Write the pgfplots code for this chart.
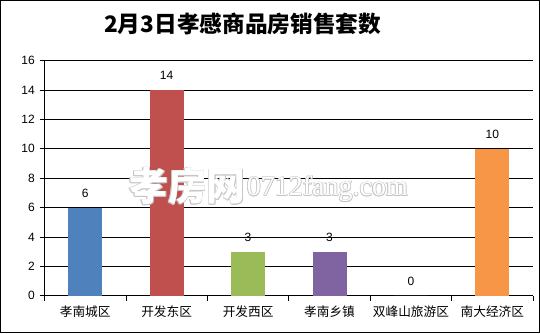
\documentclass[border=0pt]{standalone}
\usepackage{pgfplots}
\pgfplotsset{compat=1.18}
\usepackage{fontspec}
\setmainfont{Liberation Sans}
\newfontfamily\cjk{Noto Sans CJK SC}
\newfontfamily\wmserif{Liberation Serif}
\definecolor{cA}{HTML}{4F81BD}
\definecolor{cB}{HTML}{C0504D}
\definecolor{cC}{HTML}{9BBB59}
\definecolor{cD}{HTML}{8064A2}
\definecolor{cE}{HTML}{4BACC6}
\definecolor{cF}{HTML}{F79646}
\newcommand{\wm}[3]{%
  \foreach \dx/\dy in {0.6/0,-0.6/0,0/0.6,0/-0.6,0.45/0.45,-0.45/0.45,0.45/-0.45,-0.45/-0.45}{%
    \node[font=#3, text=gray!45, inner sep=0pt] at ($(#1)+(\dx,\dy)$) {#2};}
  \node[font=#3, text=white, inner sep=0pt] at (#1) {#2};}
\usetikzlibrary{calc}
\begin{document}
\begin{tikzpicture}[x=1pt,y=1pt]
\useasboundingbox (0,0) rectangle (405,249.75);
\draw[line width=0.75pt] (0.375,0.375) rectangle (404.625,249.375);
\node[font=\cjk\bfseries\fontsize{17}{20}\selectfont] at (181.9,231.5) {2月3日孝感商品房销售套数};
\begin{axis}[
  at={(33.4pt,28pt)}, anchor=south west,
  scale only axis, width=366.4pt, height=176.25pt,
  ybar, bar width=25.5pt, bar shift=0pt,
  xmin=-0.5, xmax=5.5, ymin=0, ymax=16,
  ytick={0,2,...,16},
  xtick={0,...,5},
  xticklabels={孝南城区,开发东区,开发西区,孝南乡镇,双峰山旅游区,南大经济区},
  xticklabel style={font=\cjk\fontsize{9.5}{11}\selectfont},
  yticklabel style={font=\fontsize{9}{11}\selectfont},
  /pgf/number format/assume math mode=true,
  minor xtick={-0.5,0.5,...,5.5},
  major x tick style={draw=none},
  tick align=outside,
  major tick length=3.75pt, minor tick length=3.75pt,
  every tick/.style={black, line width=0.6pt},
  axis x line*=bottom, axis y line*=left,
  axis line style={black, line width=0.6pt, -},
  ymajorgrids, major grid style={black, line width=0.6pt},
  nodes near coords,
  every node near coord/.append style={font=\fontsize{9}{11}\selectfont, black, yshift=4pt},
]
\addplot[fill=cA, draw=none] coordinates {(0,6)};
\addplot[fill=cB, draw=none] coordinates {(1,14)};
\addplot[fill=cC, draw=none] coordinates {(2,3)};
\addplot[fill=cD, draw=none] coordinates {(3,3)};
\addplot[fill=cE, draw=none] coordinates {(4,0)};
\addplot[fill=cF, draw=none] coordinates {(5,10)};
\end{axis}
\wm{140.6,110}{孝房网}{\cjk\bfseries\fontsize{29}{32}\selectfont}
\wm{245.5,108}{0712fang.com}{\wmserif\fontsize{21}{24}\selectfont}
\end{tikzpicture}
\end{document}
